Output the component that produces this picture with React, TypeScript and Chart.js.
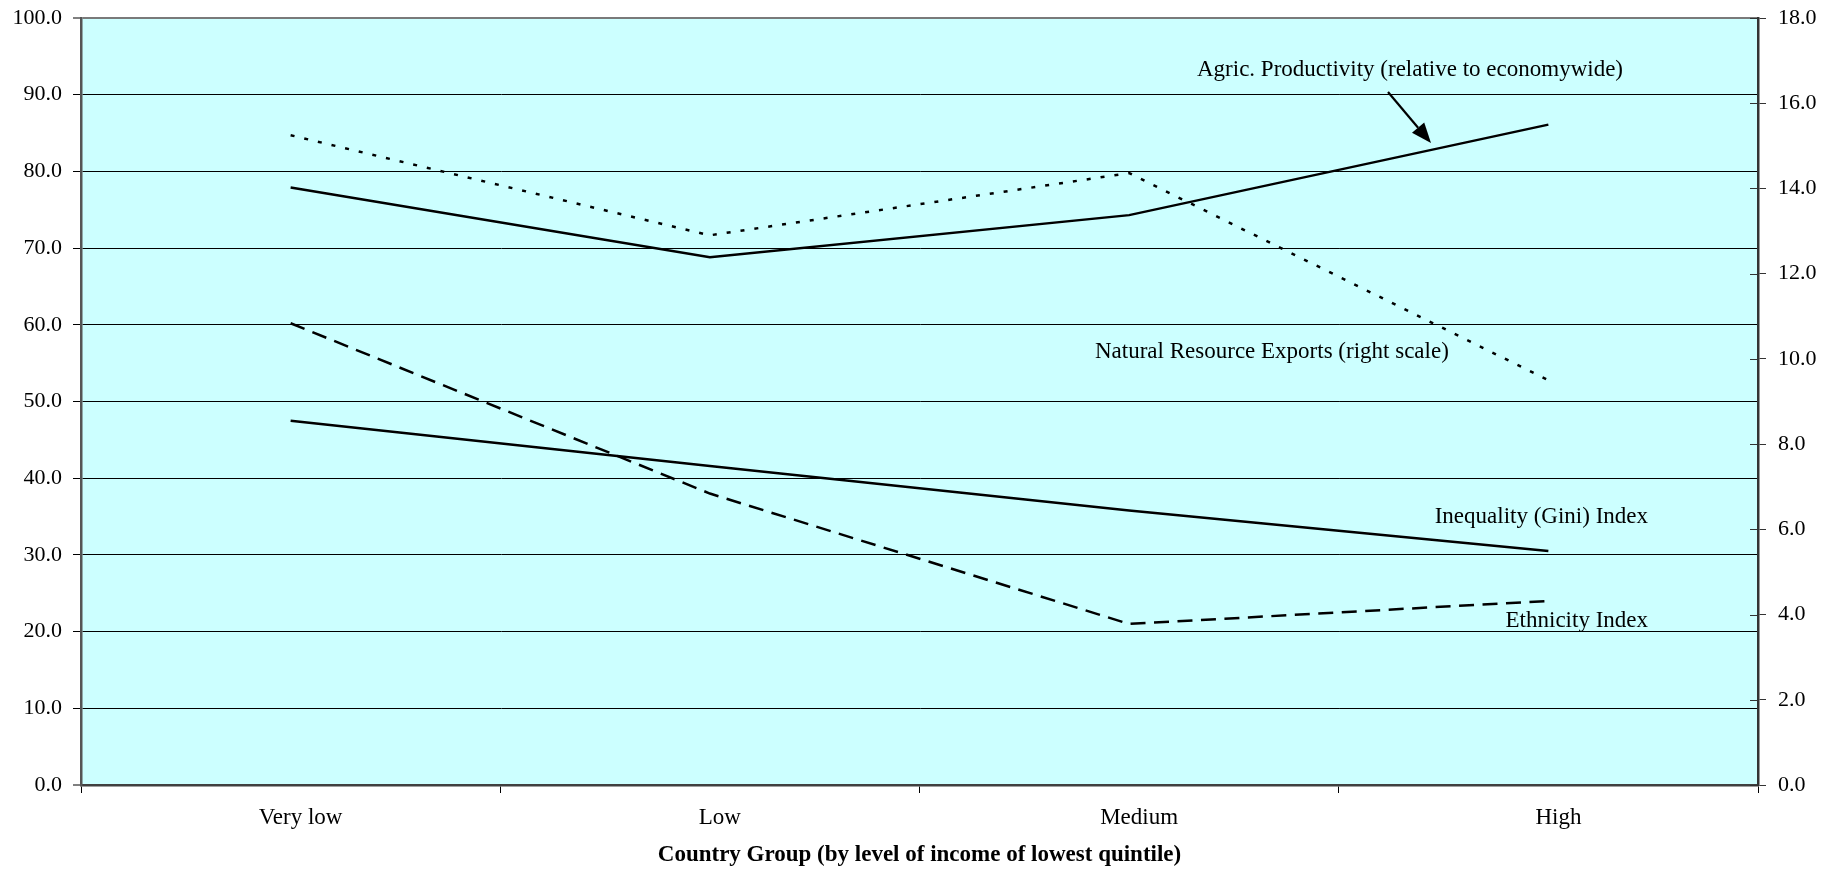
import { useEffect, useRef } from "react";
import { Chart, registerables } from "chart.js";

Chart.register(...registerables);

// Country groups along the horizontal axis
const categories = ["Very low", "Low", "Medium", "High"];

// Left-scale series
const agricProductivity = [77.9, 68.8, 74.3, 86.1];
const giniIndex = [47.5, 41.6, 35.8, 30.5];
const ethnicityIndex = [60.2, 38.0, 21.0, 24.0];

// Right-scale series
const naturalResourceExports = [15.25, 12.9, 14.36, 9.5];

// Axis ranges
const leftMax = 100;
const leftStep = 10;
const rightMax = 18;
const rightStep = 2;

const axisTitle = "Country Group (by level of income of lowest quintile)";

const SERIF = "'Liberation Serif', 'Times New Roman', serif";
const PLOT_BG = "#CCFFFF";

const WIDTH = 1841;
const HEIGHT = 870;

// In-plot captions (pixel positions on the canvas)
const captions = [
  { text: "Agric. Productivity (relative to economywide)", x: 1197, y: 70, align: "left" as CanvasTextAlign },
  { text: "Natural Resource Exports (right scale)", x: 1095, y: 352, align: "left" as CanvasTextAlign },
  { text: "Inequality (Gini) Index", x: 1648, y: 517, align: "right" as CanvasTextAlign },
  { text: "Ethnicity Index", x: 1648, y: 621, align: "right" as CanvasTextAlign },
];

const arrow = { x1: 1388, y1: 92, x2: 1431, y2: 143, head: 20, halfWidth: 8 };

const decorations = {
  id: "decorations",
  beforeDraw(chart: Chart) {
    const { ctx, chartArea } = chart;
    ctx.save();
    ctx.fillStyle = PLOT_BG;
    ctx.fillRect(chartArea.left, chartArea.top, chartArea.right - chartArea.left, chartArea.bottom - chartArea.top);
    ctx.restore();
  },
  afterDraw(chart: Chart) {
    const { ctx, chartArea } = chart;
    const yRight = chart.scales.yRight;
    ctx.save();

    // inward half of the right-axis tick marks
    ctx.strokeStyle = "#333";
    ctx.lineWidth = 1;
    for (let v = 0; v <= rightMax; v += rightStep) {
      const y = Math.round(yRight.getPixelForValue(v)) + 0.5;
      ctx.beginPath();
      ctx.moveTo(chartArea.right - 8, y);
      ctx.lineTo(chartArea.right, y);
      ctx.stroke();
    }

    // captions
    ctx.fillStyle = "#000";
    ctx.font = `23px ${SERIF}`;
    ctx.textBaseline = "middle";
    for (const c of captions) {
      ctx.textAlign = c.align;
      ctx.fillText(c.text, c.x, c.y);
    }

    // arrow pointing at the productivity line
    const ang = Math.atan2(arrow.y2 - arrow.y1, arrow.x2 - arrow.x1);
    const bx = arrow.x2 - arrow.head * Math.cos(ang);
    const by = arrow.y2 - arrow.head * Math.sin(ang);
    ctx.strokeStyle = "#000";
    ctx.lineWidth = 2.2;
    ctx.beginPath();
    ctx.moveTo(arrow.x1, arrow.y1);
    ctx.lineTo(bx, by);
    ctx.stroke();
    ctx.beginPath();
    ctx.moveTo(arrow.x2, arrow.y2);
    ctx.lineTo(bx + arrow.halfWidth * Math.sin(ang), by - arrow.halfWidth * Math.cos(ang));
    ctx.lineTo(bx - arrow.halfWidth * Math.sin(ang), by + arrow.halfWidth * Math.cos(ang));
    ctx.closePath();
    ctx.fill();

    // horizontal axis title, centred under the plot
    ctx.font = `bold 23px ${SERIF}`;
    ctx.textAlign = "center";
    ctx.fillText(axisTitle, (chartArea.left + chartArea.right) / 2, 855);

    ctx.restore();
  },
};

export default function App() {
  const canvasRef = useRef<HTMLCanvasElement | null>(null);

  useEffect(() => {
    const canvas = canvasRef.current;
    if (!canvas) return;

    const lineStyle = {
      borderColor: "#000",
      borderWidth: 2.5,
      pointRadius: 0,
      fill: false,
      tension: 0,
    };

    // Vertical axes keep a fixed width and do not push the plot down for their end labels
    const fixWidth = (w: number) => (scale: any) => {
      scale.width = w;
      scale.paddingTop = 0;
      scale.paddingBottom = 0;
    };

    const chart = new Chart(canvas, {
      type: "line",
      data: {
        labels: categories,
        datasets: [
          { ...lineStyle, label: "Agric. Productivity", data: agricProductivity, yAxisID: "y" },
          { ...lineStyle, label: "Natural Resource Exports", data: naturalResourceExports, yAxisID: "yRight", borderDash: [4, 10] },
          { ...lineStyle, label: "Inequality (Gini) Index", data: giniIndex, yAxisID: "y" },
          { ...lineStyle, label: "Ethnicity Index", data: ethnicityIndex, yAxisID: "y", borderDash: [15, 8.5] },
        ],
      },
      options: {
        responsive: false,
        animation: false,
        events: [],
        layout: { padding: { top: 18, left: 0, right: 0, bottom: 0 } },
        plugins: {
          legend: { display: false },
          tooltip: { enabled: false },
          title: { display: false },
        },
        scales: {
          x: {
            type: "category",
            offset: true,
            afterFit: (scale: any) => {
              scale.height = 85;
              scale.paddingLeft = 0;
              scale.paddingRight = 0;
            },
            grid: {
              offset: true,
              drawOnChartArea: false,
              drawTicks: true,
              tickLength: 8,
              color: "#000",
              lineWidth: 1,
            },
            border: { display: true, color: "#404040", width: 2.5 },
            ticks: {
              color: "#000",
              font: { family: SERIF, size: 23 },
              padding: 11,
              labelOffset: 10,
              maxRotation: 0,
            },
          },
          y: {
            position: "left",
            min: 0,
            max: leftMax,
            afterFit: fixWidth(81),
            ticks: {
              stepSize: leftStep,
              color: "#000",
              font: { family: SERIF, size: 22 },
              padding: 11,
              callback: (v: any) => Number(v).toFixed(1),
            },
            grid: {
              color: (ctx: any) =>
                ctx.tick && ctx.tick.value === leftMax ? "#7a7a7a" : ctx.tick && ctx.tick.value === 0 ? "#404040" : "#000",
              lineWidth: (ctx: any) => (ctx.tick && (ctx.tick.value === leftMax || ctx.tick.value === 0) ? 2 : 1),
              tickColor: "#000",
              tickWidth: 1,
              tickLength: 8,
            },
            border: { display: true, color: "#555", width: 2.5 },
          },
          yRight: {
            position: "right",
            min: 0,
            max: rightMax,
            afterFit: fixWidth(83),
            ticks: {
              stepSize: rightStep,
              color: "#000",
              font: { family: SERIF, size: 22 },
              padding: 12,
              callback: (v: any) => Number(v).toFixed(1),
            },
            grid: {
              drawOnChartArea: false,
              drawTicks: true,
              tickLength: 8,
              color: "#333",
              tickColor: "#333",
              tickWidth: 1,
            },
            border: { display: true, color: "#333", width: 2.5 },
          },
        },
      },
      plugins: [decorations],
    });

    return () => chart.destroy();
  }, []);

  return (
    <div style={{ position: "absolute", left: 0, top: 0, width: WIDTH, height: HEIGHT, background: "#fff" }}>
      <canvas ref={canvasRef} width={WIDTH} height={HEIGHT} style={{ display: "block" }} />
    </div>
  );
}
